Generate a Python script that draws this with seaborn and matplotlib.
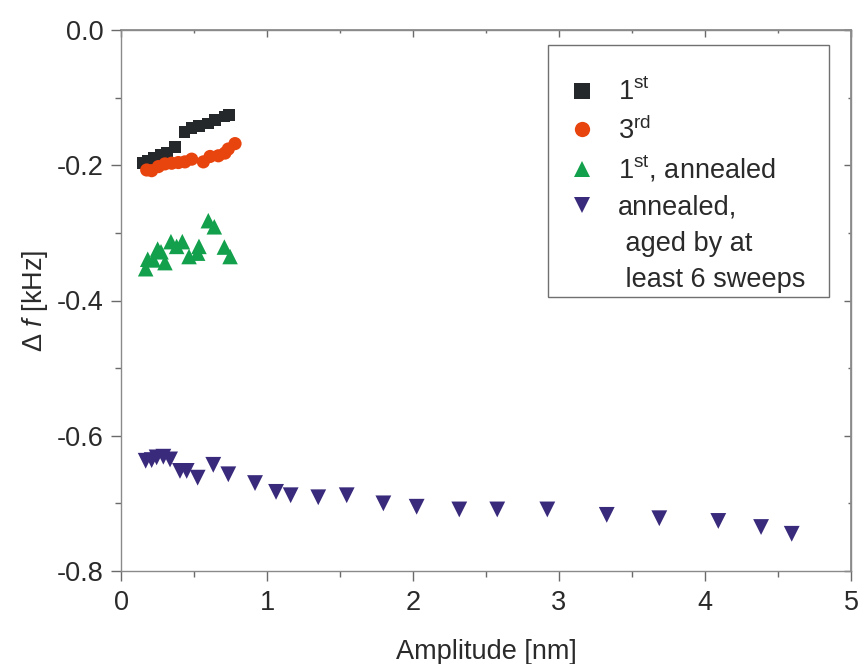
import matplotlib
matplotlib.use("Agg")
import matplotlib.pyplot as plt
import seaborn as sns
import pandas as pd
from matplotlib.lines import Line2D
from matplotlib.patches import Rectangle
from matplotlib.ticker import FixedLocator, FixedFormatter

# ---------------- data ----------------
first_amp = [0.146, 0.187, 0.228, 0.272, 0.313, 0.370, 0.434, 0.484, 0.534, 0.594, 0.644, 0.708, 0.740]
first_df = [-0.197, -0.193, -0.189, -0.185, -0.181, -0.173, -0.151, -0.145, -0.142, -0.138, -0.133, -0.128, -0.126]

third_amp = [0.176, 0.210, 0.256, 0.301, 0.347, 0.393, 0.438, 0.484, 0.564, 0.610, 0.667, 0.712, 0.735, 0.781]
third_df = [-0.207, -0.208, -0.202, -0.198, -0.197, -0.196, -0.195, -0.191, -0.195, -0.187, -0.186, -0.182, -0.176, -0.168]

ann1_amp = [0.169, 0.183, 0.221, 0.251, 0.274, 0.301, 0.342, 0.381, 0.420, 0.466, 0.525, 0.534, 0.598, 0.639, 0.708, 0.747]
ann1_df = [-0.353, -0.339, -0.340, -0.324, -0.328, -0.344, -0.313, -0.320, -0.313, -0.335, -0.330, -0.320, -0.282, -0.291, -0.321, -0.335]

aged_amp = [0.169, 0.210, 0.244, 0.290, 0.336, 0.404, 0.450, 0.525, 0.632, 0.735, 0.918, 1.062, 1.162,
            1.351, 1.546, 1.797, 2.025, 2.317, 2.577, 2.920, 3.327, 3.687, 4.091, 4.384, 4.594]
aged_df = [-0.637, -0.636, -0.632, -0.631, -0.635, -0.652, -0.652, -0.662, -0.643, -0.657, -0.670, -0.683, -0.688,
           -0.691, -0.688, -0.700, -0.705, -0.709, -0.709, -0.709, -0.717, -0.722, -0.726, -0.735, -0.745]

series_labels = ["1$^{\\mathrm{st}}$", "3$^{\\mathrm{rd}}$", "1$^{\\mathrm{st}}$, annealed", "annealed,"]
extra_legend_lines = [" aged by at", " least 6 sweeps"]

xtick_values = [0, 1, 2, 3, 4, 5]
xtick_labels = ["0", "1", "2", "3", "4", "5"]
ytick_values = [-0.8, -0.6, -0.4, -0.2, 0.0]
ytick_labels = ["-0.8", "-0.6", "-0.4", "-0.2", "0.0"]
xminor_values = [0.5, 1.5, 2.5, 3.5, 4.5]
yminor_values = [-0.7, -0.5, -0.3, -0.1]

x_label = "Amplitude [nm]"
y_label = "\u0394 $f$ [kHz]"

# ---------------- style ----------------
sns.set_theme(style="white")
plt.rcParams['font.family'] = ['Liberation Sans', 'DejaVu Sans']
plt.rcParams['mathtext.fontset'] = 'custom'
plt.rcParams['mathtext.rm'] = 'Liberation Sans'
plt.rcParams['mathtext.it'] = 'Liberation Sans:italic'
plt.rcParams['axes.unicode_minus'] = False

FS = 19.5
colors = ["#25282b", "#e8440e", "#12a04c", "#3a2a7c"]
markers = ["s", "o", "^", "v"]
sizes = [70, 90, 125, 130]
spine_col = "#8a8a8a"
tick_col = "#6a6a6a"
text_col = "#2a2a2a"

fig = plt.figure(figsize=(8.61, 6.64), dpi=100)
ax = fig.add_axes([121 / 861, 1 - 571 / 664, 730 / 861, 541 / 664])

datasets = [(first_amp, first_df), (third_amp, third_df), (ann1_amp, ann1_df), (aged_amp, aged_df)]
for (xs, ys), c, m, s, lab in zip(datasets, colors, markers, sizes, series_labels):
    df = pd.DataFrame({"amp": xs, "df": ys})
    sns.scatterplot(data=df, x="amp", y="df", marker=m, color=c, s=s,
                    edgecolor="none", linewidth=0, ax=ax, legend=False, zorder=3)

ax.set_xlim(0, 5)
ax.set_ylim(-0.8, 0.0)
ax.xaxis.set_major_locator(FixedLocator(xtick_values))
ax.xaxis.set_major_formatter(FixedFormatter(xtick_labels))
ax.xaxis.set_minor_locator(FixedLocator(xminor_values))
ax.yaxis.set_major_locator(FixedLocator(ytick_values))
ax.yaxis.set_major_formatter(FixedFormatter(ytick_labels))
ax.yaxis.set_minor_locator(FixedLocator(yminor_values))

for sp in ax.spines.values():
    sp.set_visible(True)
    sp.set_color(spine_col)
    sp.set_linewidth(1.0)

ax.tick_params(which="both", direction="out", color=tick_col, labelcolor=text_col,
               labelsize=FS, bottom=True, left=True, top=False, right=False)
ax.tick_params(which="major", length=7.5, width=1.0, pad=5)
ax.tick_params(which="minor", length=4, width=1.0)
ax.tick_params(axis="x", which="major", pad=6)

# inward ticks on top and right
secx = ax.secondary_xaxis("top")
secx.xaxis.set_major_locator(FixedLocator(xtick_values))
secx.xaxis.set_minor_locator(FixedLocator(xminor_values))
secx.tick_params(which="both", direction="in", color=tick_col, labeltop=False, width=1.0)
secx.tick_params(which="major", length=5)
secx.tick_params(which="minor", length=2.5)
secx.spines["top"].set_color(spine_col)

secy = ax.secondary_yaxis("right")
secy.yaxis.set_major_locator(FixedLocator(ytick_values))
secy.yaxis.set_minor_locator(FixedLocator(yminor_values))
secy.tick_params(which="both", direction="in", color=tick_col, labelright=False, width=1.0)
secy.tick_params(which="major", length=5)
secy.tick_params(which="minor", length=2.5)
secy.spines["right"].set_color(spine_col)

ax.set_xlabel(x_label, fontsize=FS, color=text_col, labelpad=17)
ax.set_ylabel(y_label, fontsize=FS, color=text_col, labelpad=5)

# legend frame
x0 = (548 - 121) / 730
x1 = (829 - 121) / 730
y0 = (571 - 297) / 541
y1 = (571 - 45) / 541
ax.add_patch(Rectangle((x0, y0), x1 - x0, y1 - y0, transform=ax.transAxes,
                       facecolor="white", edgecolor="#707070", linewidth=1.0, zorder=4))

handles = [Line2D([], [], linestyle="none", marker=m, color=c, markersize=11, markeredgewidth=0)
           for m, c in zip(markers, colors)]
handles += [Line2D([], [], linestyle="none") for _ in extra_legend_lines]
labels = series_labels + extra_legend_lines
leg = ax.legend(handles, labels, loc="upper left", bbox_to_anchor=((566 - 121) / 730, (571 - 79) / 541),
                frameon=False, fontsize=FS, handlelength=1.2, handletextpad=0.72,
                labelspacing=0.37, borderpad=0, borderaxespad=0)
leg.set_zorder(5)
for t in leg.get_texts():
    t.set_color(text_col)

fig.savefig("out.png", dpi=100)
